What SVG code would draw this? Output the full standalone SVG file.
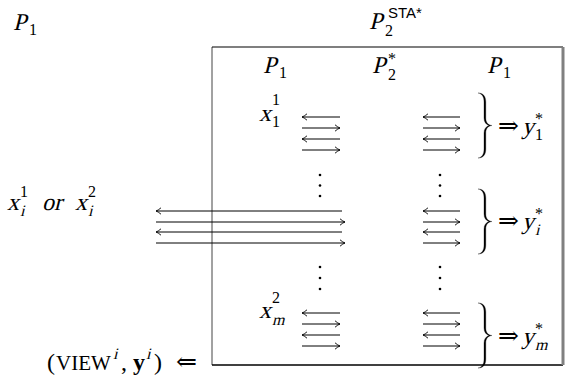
<svg xmlns="http://www.w3.org/2000/svg" width="567" height="381" viewBox="0 0 567 381" font-family="'Liberation Serif', 'Times New Roman', serif">
<style>
text{font-family:'Liberation Serif','Times New Roman',serif;fill:#000}
.m{font-size:24px}
.s{font-size:16px}
.sf{font-family:'Liberation Sans',Arial,sans-serif;font-size:15px}
.dbl{font-family:'DejaVu Serif',serif;font-size:25px}
.ar{stroke:#000;stroke-width:1;fill:none;marker-end:url(#h)}
.br{fill:#000;stroke:#000;stroke-width:0.3}
.dot{fill:#000}
</style>
<defs>
<marker id="h" markerUnits="userSpaceOnUse" markerWidth="8" markerHeight="8" viewBox="-6 -4 7 8" refX="0" refY="0" orient="auto">
<path d="M-5,-3.2 Q-2,-0.6 0,0 Q-2,0.6 -5,3.2" fill="none" stroke="#000" stroke-width="0.9"/>
</marker>
<path id="brace" d="M0,0 C5,0 7.8,3 7.8,9 L7.8,25 C7.8,29.5 10,32 14,32.5 C10,33 7.8,35.5 7.8,40 L7.8,56 C7.8,62 5,65 0,65 C4,64.3 6,61.5 6,56 L6,40 C6,36 8,33.5 11,32.5 C8,31.5 6,29 6,25 L6,9 C6,3.5 4,0.7 0,0 Z"/>
</defs>

<g id="box">
<line x1="212" y1="47" x2="212" y2="365" stroke="#444" stroke-width="1"/>
<line x1="212" y1="47" x2="563" y2="47" stroke="#000" stroke-width="1.2"/>
<line x1="212" y1="365" x2="563" y2="365" stroke="#000" stroke-width="1.3"/>
<line x1="563" y1="47" x2="563" y2="365" stroke="#808080" stroke-width="3"/>
</g>

<g id="label-P1-outer">
<text class="m" transform="translate(13,30) skewX(-14)">P</text><text class="s" x="29" y="35">1</text>
</g>
<g id="label-P2-sta">
<text class="m" transform="translate(369,29) skewX(-14)">P</text><text class="s" x="385" y="36">2</text><text class="sf" x="388" y="18">STA*</text>
</g>

<g id="header">
<text class="m" transform="translate(263,73) skewX(-14)">P</text><text class="s" x="279" y="78">1</text>
<text class="m" transform="translate(372,73) skewX(-14)">P</text><text class="s" x="388" y="80">2</text><text class="s" x="388" y="64">*</text>
<text class="m" transform="translate(487,73) skewX(-14)">P</text><text class="s" x="503" y="78">1</text>
</g>

<g id="row-1">
<text class="m" transform="translate(259,121) skewX(-14)">x</text><text class="s" x="272" y="105">1</text><text class="s" x="272" y="127">1</text>
<use href="#brace" class="br" transform="translate(478,93)"/>
<text class="dbl" x="498" y="134">⇒</text>
<text class="m" transform="translate(522,134) skewX(-14)">y</text><text class="s" x="535" y="124">*</text><text class="s" x="535" y="140">1</text>
</g>

<g id="row-i">
<text class="m" transform="translate(7,210) skewX(-14)">x</text><text class="s" x="20" y="197">1</text><text class="s" transform="translate(20,216) skewX(-14)">i</text>
<text class="m" transform="translate(42,210) skewX(-14)">or</text>
<text class="m" transform="translate(75,210) skewX(-14)">x</text><text class="s" x="88" y="197">2</text><text class="s" transform="translate(88,216) skewX(-14)">i</text>
<use href="#brace" class="br" transform="translate(478,189)"/>
<text class="dbl" x="498" y="229">⇒</text>
<text class="m" transform="translate(522,229) skewX(-14)">y</text><text class="s" x="535" y="219">*</text><text class="s" transform="translate(535,235) skewX(-14)">i</text>
</g>

<g id="row-m">
<text class="m" transform="translate(259,318) skewX(-14)">x</text><text class="s" x="272" y="303">2</text><text class="s" transform="translate(272,325) skewX(-14)">m</text>
<use href="#brace" class="br" transform="translate(478,303)"/>
<text class="dbl" x="498" y="344">⇒</text>
<text class="m" transform="translate(522,344) skewX(-14)">y</text><text class="s" x="535" y="334">*</text><text class="s" transform="translate(535,350) skewX(-14)">m</text>
</g>

<g id="view">
<text x="47" y="370" font-size="24">(</text>
<text x="56" y="370" font-size="21">VIEW</text>
<text class="s" transform="translate(113,359) skewX(-14)">i</text>
<text x="121" y="370" font-size="24">,</text>
<text x="133" y="370" font-size="24" font-weight="bold">y</text>
<text class="s" transform="translate(146,359) skewX(-14)">i</text>
<text x="154" y="370" font-size="24">)</text>
<text class="dbl" x="176" y="370">⇐</text>
</g>

<g id="dots">
<circle class="dot" cx="320" cy="175" r="1.3"/><circle class="dot" cx="320" cy="185.5" r="1.3"/><circle class="dot" cx="320" cy="196" r="1.3"/>
<circle class="dot" cx="440" cy="175" r="1.3"/><circle class="dot" cx="440" cy="185.5" r="1.3"/><circle class="dot" cx="440" cy="196" r="1.3"/>
<circle class="dot" cx="320" cy="267" r="1.3"/><circle class="dot" cx="320" cy="278" r="1.3"/><circle class="dot" cx="320" cy="289" r="1.3"/>
<circle class="dot" cx="440" cy="267" r="1.3"/><circle class="dot" cx="440" cy="278" r="1.3"/><circle class="dot" cx="440" cy="289" r="1.3"/>
</g>

<g id="connectors">
<line class="ar" x1="340" y1="117" x2="302" y2="117"/>
<line class="ar" x1="302" y1="128" x2="340" y2="128"/>
<line class="ar" x1="340" y1="139" x2="302" y2="139"/>
<line class="ar" x1="302" y1="150" x2="340" y2="150"/>
<line class="ar" x1="460" y1="117" x2="423" y2="117"/>
<line class="ar" x1="423" y1="128" x2="460" y2="128"/>
<line class="ar" x1="460" y1="139" x2="423" y2="139"/>
<line class="ar" x1="423" y1="150" x2="460" y2="150"/>

<line class="ar" x1="342" y1="211" x2="156" y2="211"/>
<line class="ar" x1="156" y1="222" x2="345" y2="222"/>
<line class="ar" x1="342" y1="232" x2="156" y2="232"/>
<line class="ar" x1="156" y1="243" x2="345" y2="243"/>
<line class="ar" x1="460" y1="211" x2="423" y2="211"/>
<line class="ar" x1="423" y1="222" x2="460" y2="222"/>
<line class="ar" x1="460" y1="232" x2="423" y2="232"/>
<line class="ar" x1="423" y1="243" x2="460" y2="243"/>

<line class="ar" x1="340" y1="313" x2="302" y2="313"/>
<line class="ar" x1="302" y1="324" x2="340" y2="324"/>
<line class="ar" x1="340" y1="335" x2="302" y2="335"/>
<line class="ar" x1="302" y1="346" x2="340" y2="346"/>
<line class="ar" x1="460" y1="313" x2="423" y2="313"/>
<line class="ar" x1="423" y1="324" x2="460" y2="324"/>
<line class="ar" x1="460" y1="335" x2="423" y2="335"/>
<line class="ar" x1="423" y1="346" x2="460" y2="346"/>
</g>
</svg>
